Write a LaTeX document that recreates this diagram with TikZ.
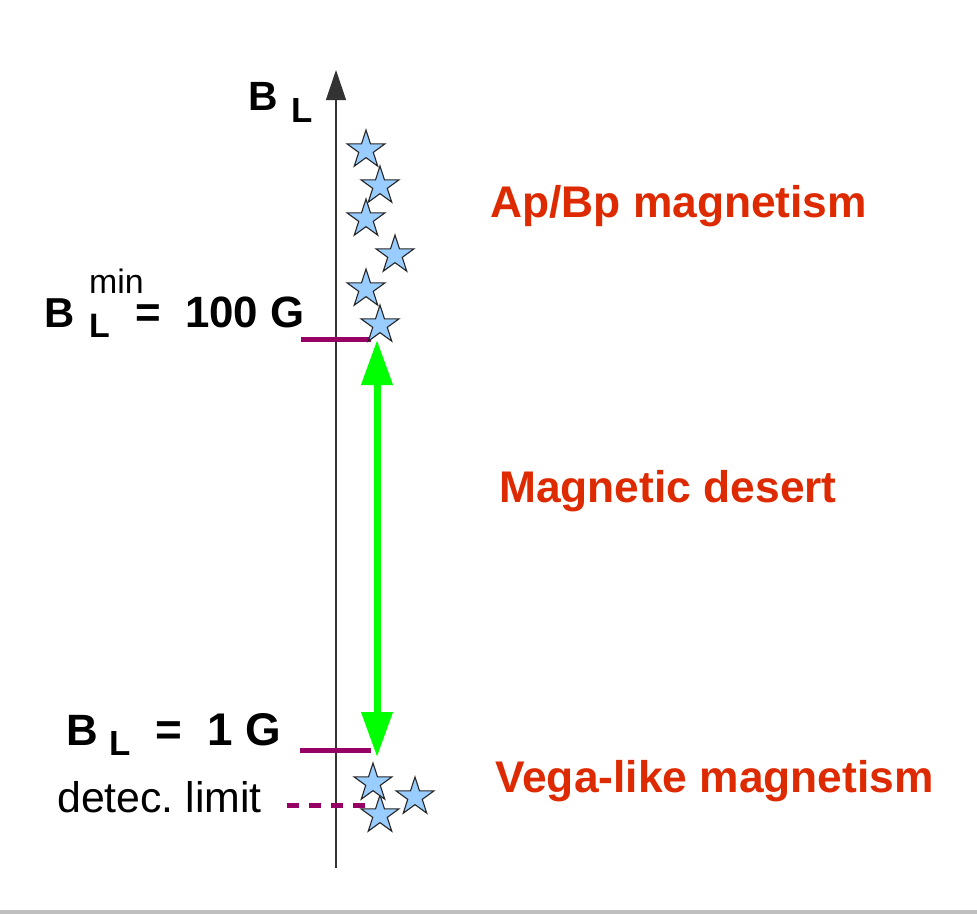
\documentclass[tikz,border=0pt]{standalone}
\usepackage{fontspec}
\setmainfont{Liberation Sans}
\usetikzlibrary{shapes.geometric,arrows.meta}
\definecolor{labred}{RGB}{222,42,0}
\definecolor{plum}{RGB}{150,0,100}
\definecolor{starblue}{RGB}{153,204,255}
\definecolor{neon}{RGB}{0,255,0}
\tikzset{
  starnode/.style={star, star points=5, star point ratio=2.618, minimum size=40bp, inner sep=0pt,
    fill=starblue, draw=black!85, line width=1.1bp},
  redlabel/.style={anchor=base west, inner sep=0pt, text=labred, font=\fontsize{44.5}{50}\selectfont\bfseries},
  txt/.style={anchor=base west, inner sep=0pt},
  limitline/.style={draw=plum, line width=5bp},
}
\frenchspacing
\begin{document}
\begin{tikzpicture}[x=1bp,y=-1bp]
\useasboundingbox (0,0) rectangle (977,914);
\fill[white] (0,0) rectangle (977,914);
\fill[black!25] (0,910) rectangle (977,914);

% axis
\coordinate (axbot) at (336,868);
\coordinate (axtop) at (336,70);
\draw[black!80, line width=1.2bp, -{Triangle[width=20bp,length=30bp]}] (axbot) -- (axtop);
\node[txt, font=\fontsize{41}{44}\selectfont\bfseries] (bl) at (248,110) {B};
\node[txt, font=\fontsize{35}{38}\selectfont\bfseries] (blsub) at (291,122) {L};

% limit lines
\coordinate (l100a) at (301,339);
\coordinate (l100b) at (371,339);
\draw[limitline] (l100a) -- (l100b);
\coordinate (l1a) at (300,750);
\coordinate (l1b) at (371,750);
\draw[limitline] (l1a) -- (l1b);
\coordinate (lda) at (287,805);
\coordinate (ldb) at (372,805);
\draw[limitline, dash pattern=on 12bp off 10bp] (lda) -- (ldb);

% stars top
\node[starnode] (s1) at (366,150) {};
\node[starnode] (s2) at (380,186) {};
\node[starnode] (s3) at (366,219) {};
\node[starnode] (s4) at (395,255) {};
\node[starnode] (s5) at (366,289) {};
\node[starnode] (s6) at (380,325) {};
% stars bottom
\node[starnode] (s8) at (380,815) {};
\node[starnode] (s7) at (373,783) {};
\node[starnode] (s9) at (415,797) {};

% green arrow
\coordinate (gtop) at (377,340);
\coordinate (gbot) at (377,757);
\draw[neon, line width=7bp, {Triangle[width=30bp,length=45bp]}-{Triangle[width=30bp,length=45bp]}] (gtop) -- (gbot);

% left labels
\node[txt, font=\fontsize{42}{44}\selectfont\bfseries] (bmin) at (44,327) {B};
\node[txt, font=\fontsize{34}{36}\selectfont] (minsup) at (89,293) {min};
\node[txt, font=\fontsize{34}{36}\selectfont\bfseries] (minsub) at (89,337) {L};
\node[txt, font=\fontsize{44}{46}\selectfont\bfseries] (eq100) at (135,327) {=\ \ 100 G};

\node[txt, font=\fontsize{44}{46}\selectfont\bfseries] (b1) at (66,745) {B};
\node[txt, font=\fontsize{35}{38}\selectfont\bfseries] (b1sub) at (109,755) {L};
\node[txt, font=\fontsize{46}{48}\selectfont\bfseries] (eq1) at (155,745) {=\ \ 1 G};

\node[txt, font=\fontsize{43}{46}\selectfont] (detec) at (57,812) {detec. limit};

% right labels
\node[redlabel] (apbp) at (490,217) {Ap/Bp magnetism};
\node[redlabel] (desert) at (499,502) {Magnetic desert};
\node[redlabel] (vega) at (495,792) {Vega-like magnetism};
\end{tikzpicture}
\end{document}
